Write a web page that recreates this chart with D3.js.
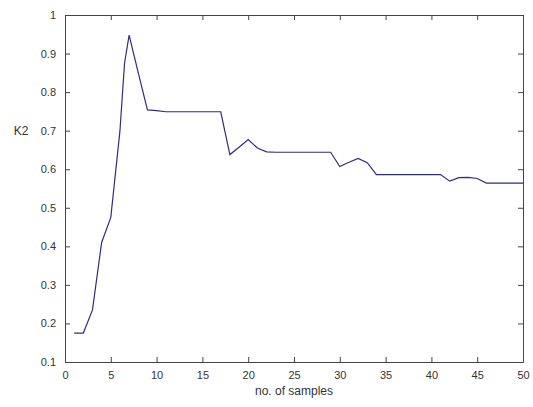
<!DOCTYPE html>
<html>
<head>
<meta charset="utf-8">
<script src="https://cdn.jsdelivr.net/npm/d3@7"></script>
<style>
  body { margin: 0; background: #fff; }
  text { font-family: "Liberation Sans", Arial, sans-serif; }
</style>
</head>
<body>
<script>
// samples
var samples = [1, 2, 3, 4, 5, 6, 6.5, 7, 8, 9, 10, 11, 12, 13, 14, 15, 16, 17, 18, 19, 20,
               21, 22, 23, 24, 25, 26, 27, 28, 29, 30, 31, 32, 33, 34, 35, 36, 37, 38, 39, 40,
               41, 42, 43, 44, 45, 46, 47, 48, 49, 50];
var k2 = [0.175, 0.175, 0.235, 0.41, 0.475, 0.70, 0.875, 0.948, 0.85, 0.754, 0.752, 0.749, 0.749, 0.749, 0.749, 0.749, 0.749, 0.749, 0.638, 0.657, 0.677,
          0.655, 0.645, 0.644, 0.644, 0.644, 0.644, 0.644, 0.644, 0.644, 0.607, 0.618, 0.628, 0.617, 0.586, 0.586, 0.586, 0.586, 0.586, 0.586, 0.586,
          0.586, 0.569, 0.578, 0.579, 0.576, 0.564, 0.564, 0.564, 0.564, 0.564];
var xTicks = [0, 5, 10, 15, 20, 25, 30, 35, 40, 45, 50];
var yTicks = [0.1, 0.2, 0.3, 0.4, 0.5, 0.6, 0.7, 0.8, 0.9, 1];

var W = 533, H = 407;
var padLeft = 65, padRight = 523, padTop = 15, padBottom = 362;

var svg = d3.select("body").append("svg")
    .attr("width", W)
    .attr("height", H);

var x = d3.scaleLinear().domain([0, 50]).range([padLeft, padRight]);
var y = d3.scaleLinear().domain([0.1, 1]).range([padBottom, padTop]);

var axisColor = "#444";

// bottom and left axes with labels, ticks pointing inward
var xAxis = svg.append("g")
    .attr("transform", "translate(0," + padBottom + ")")
    .call(d3.axisBottom(x).tickValues(xTicks).tickSizeInner(-5).tickSizeOuter(0).tickPadding(9)
        .tickFormat(d3.format("d")));
var yAxis = svg.append("g")
    .attr("transform", "translate(" + padLeft + ",0)")
    .call(d3.axisLeft(y).tickValues(yTicks).tickSizeInner(-5).tickSizeOuter(0).tickPadding(9)
        .tickFormat(function(d){ return d === 1 ? "1" : d3.format(".1f")(d); }));

// mirrored ticks on top and right, no labels
var xTop = svg.append("g")
    .attr("transform", "translate(0," + padTop + ")")
    .call(d3.axisTop(x).tickValues(xTicks).tickSizeInner(-5).tickSizeOuter(0).tickFormat(""));
var yRight = svg.append("g")
    .attr("transform", "translate(" + padRight + ",0)")
    .call(d3.axisRight(y).tickValues(yTicks).tickSizeInner(-5).tickSizeOuter(0).tickFormat(""));

[xAxis, yAxis, xTop, yRight].forEach(function(g){
    g.selectAll("path,line").attr("stroke", axisColor);
    g.selectAll("text")
        .attr("fill", "#333")
        .style("font-size", "11px");
});

// the data line
var line = d3.line()
    .x(function(d, i){ return x(samples[i]); })
    .y(function(d){ return y(d); });

svg.append("path")
    .datum(k2)
    .attr("d", line)
    .attr("fill", "none")
    .attr("stroke", "#2e2e80")
    .attr("stroke-width", 1.2);

// axis titles
svg.append("text")
    .attr("x", (padLeft + padRight) / 2)
    .attr("y", 395)
    .attr("text-anchor", "middle")
    .attr("fill", "#333")
    .style("font-size", "12px")
    .text("no. of samples");

svg.append("text")
    .attr("x", 21)
    .attr("y", y(0.7) + 4)
    .attr("text-anchor", "middle")
    .attr("fill", "#333")
    .style("font-size", "12px")
    .text("K2");
</script>
</body>
</html>
